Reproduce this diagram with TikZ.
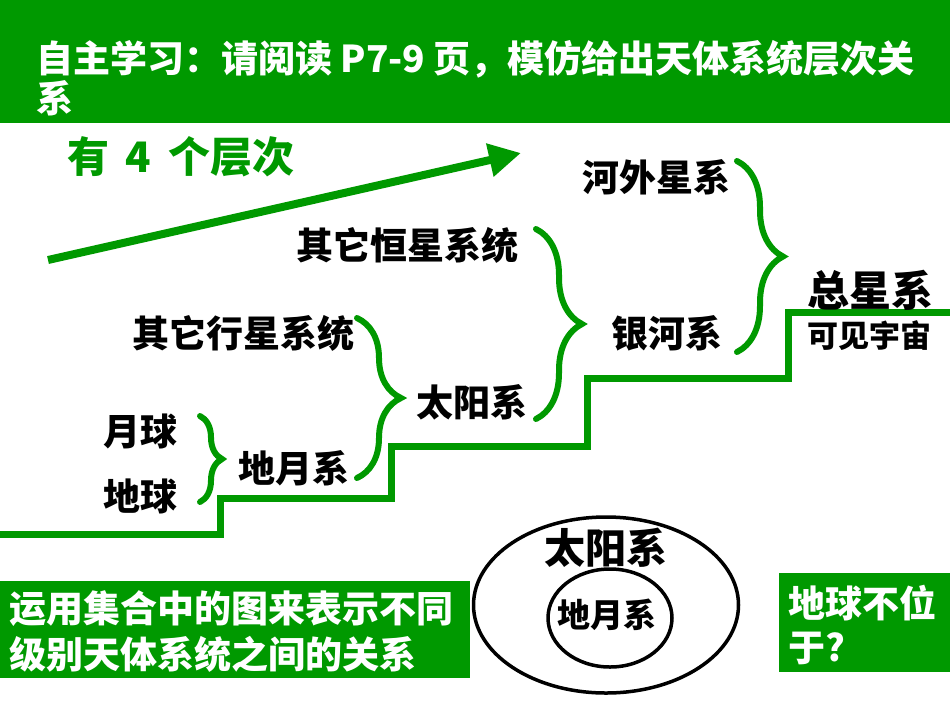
\documentclass[tikz,border=0pt]{standalone}
\usepackage{fontspec}
\newfontfamily\cjk{Noto Sans CJK SC}
\usetikzlibrary{arrows.meta,decorations.pathreplacing,shapes.geometric}
\definecolor{gr}{RGB}{0,153,0}
\begin{document}
\begin{tikzpicture}[x=1pt,y=-1pt,
  lbl/.style={inner sep=0pt, text=black, font={\cjk\bfseries\fontsize{#1}{#1}\selectfont}},
  wlbl/.style={inner sep=0pt, text=white, font={\cjk\bfseries\fontsize{#1}{#1}\selectfont}},
  greenbox/.style={fill=gr, inner sep=0pt, anchor=north west},
  brc/.style={draw=gr, line width=6pt, line cap=round, decorate, decoration={brace, amplitude=#1}},
  stair/.style={draw=gr, line width=7pt},
  ring/.style={draw=black, line width=3.5pt, ellipse, inner sep=0pt}
]
\useasboundingbox (0,0) rectangle (950,713);
% title band
\node[greenbox, minimum width=950pt, minimum height=123pt] (band) at (0,0) {};
\node[wlbl=37, anchor=base west] (t1) at (36,72) {自主学习：请阅读 P7-9 页，模仿给出天体系统层次关};
\node[wlbl=37, anchor=base west] (t2) at (36,112) {系};
% level heading and arrow
\node[inner sep=0pt, text=gr, font={\cjk\bfseries\fontsize{42}{42}\selectfont}, anchor=west] (lv) at (67,157) {有\hspace{0.4em}4\hspace{0.4em}个层次};
\coordinate (a0) at (48,260);
\coordinate (a1) at (521,153);
\draw[draw=gr, line width=8pt, -{Triangle[length=32pt,width=32pt]}] (a0) -- (a1);
% staircase
\coordinate (s0) at (0,534);
\coordinate (s1) at (220,498);
\coordinate (s2) at (391,446);
\coordinate (s3) at (587,378);
\coordinate (s4) at (788,312);
\coordinate (s5) at (950,312);
\draw[stair] (s0) -| (s1) -| (s2) -| (s3) -| (s4) -- (s5);
% labels
\node[lbl=37] (moon) at (140,431) {月球};
\node[lbl=37] (earth) at (140,496) {地球};
\node[lbl=37] (em) at (294,468) {地月系};
\node[lbl=37] (opl) at (243,333) {其它行星系统};
\node[lbl=37] (sun) at (472,402) {太阳系};
\node[lbl=37] (ost) at (407,245) {其它恒星系统};
\node[lbl=37] (milky) at (667,333) {银河系};
\node[lbl=37] (extra) at (656,177) {河外星系};
\node[lbl=42] (total) at (870,290) {总星系};
\node[lbl=31] (vis) at (869,336) {可见宇宙};
% braces
\draw[brc=22pt] (200,416) -- (200,502);
\draw[brc=44pt] (357,318) -- (357,478);
\draw[brc=46pt] (536,229) -- (536,419);
\draw[brc=46pt] (737,161) -- (737,352);
% bottom-left box
\node[greenbox, minimum width=470pt, minimum height=97pt] (lbox) at (0,581) {};
\node[wlbl=37, anchor=west] (l1) at (9,609) {运用集合中的图来表示不同};
\node[wlbl=37, anchor=west] (l2) at (9,654) {级别天体系统之间的关系};
% right box
\node[greenbox, minimum width=171pt, minimum height=99pt] (rbox) at (779,573) {};
\node[wlbl=37, anchor=west] (r1) at (788,603) {地球不位};
\node[wlbl=37, anchor=west] (r2) at (788,648) {于?};
% sets
\node[ring, minimum width=265pt, minimum height=176pt] (outer) at (606,605) {};
\node[ring, minimum width=124pt, minimum height=98pt] (inner) at (610,618) {};
\node[lbl=41] (sunset) at (606,548) {太阳系};
\node[lbl=33] (emset) at (607,615) {地月系};
\end{tikzpicture}
\end{document}
